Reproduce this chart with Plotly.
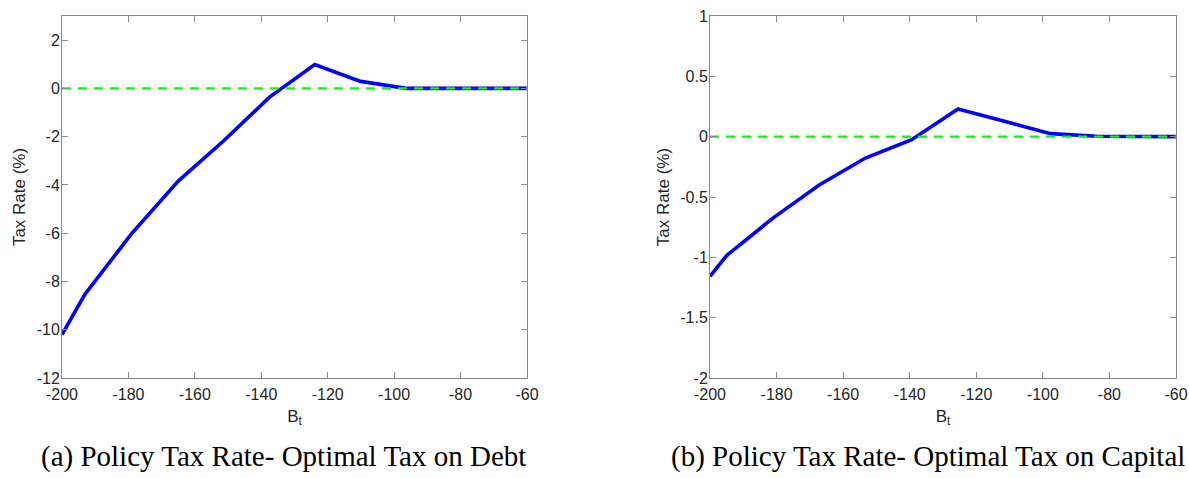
import plotly.graph_objects as go

# ---- data ----
debt_B = [-200, -193.2, -179.1, -165.0, -151.3, -137.6, -123.9, -110.1, -96.4, -82.6, -68.9, -60]
debt_tax = [-10.2, -8.55, -6.03, -3.84, -2.17, -0.37, 0.99, 0.29, 0.0, 0.0, 0.0, 0.0]

cap_B = [-200, -195.0, -181.1, -167.2, -153.3, -139.4, -125.5, -111.6, -97.7, -83.8, -69.9, -60]
cap_tax = [-1.157, -0.985, -0.675, -0.40, -0.177, -0.025, 0.23, 0.127, 0.025, 0.004, 0.0, 0.0]

zero_B = [-200, -60]
zero_val = [0, 0]

x_ticks = [-200, -180, -160, -140, -120, -100, -80, -60]
x_labels = ["-200", "-180", "-160", "-140", "-120", "-100", "-80", "-60"]
debt_yticks = [-12, -10, -8, -6, -4, -2, 0, 2]
debt_ylabels = ["-12", "-10", "-8", "-6", "-4", "-2", "0", "2"]
cap_yticks = [-2, -1.5, -1, -0.5, 0, 0.5, 1]
cap_ylabels = ["-2", "-1.5", "-1", "-0.5", "0", "0.5", "1"]

captions = ["(a) Policy Tax Rate- Optimal Tax on Debt",
            "(b) Policy Tax Rate- Optimal Tax on Capital"]

W, H = 1189, 478
BLUE = "#0000ff"
GREEN = "#00ff00"

fig = go.Figure()

# left panel
fig.add_trace(go.Scatter(x=debt_B, y=debt_tax, mode="lines",
                         line=dict(color=BLUE, width=3.6), xaxis="x", yaxis="y",
                         showlegend=False, hoverinfo="skip"))
fig.add_trace(go.Scatter(x=zero_B, y=zero_val, mode="lines",
                         line=dict(color=GREEN, width=2.2, dash="9px,7px"), xaxis="x", yaxis="y",
                         showlegend=False, hoverinfo="skip"))
# right panel
fig.add_trace(go.Scatter(x=cap_B, y=cap_tax, mode="lines",
                         line=dict(color=BLUE, width=3.6), xaxis="x2", yaxis="y2",
                         showlegend=False, hoverinfo="skip"))
fig.add_trace(go.Scatter(x=zero_B, y=zero_val, mode="lines",
                         line=dict(color=GREEN, width=2.2, dash="9px,7px"), xaxis="x2", yaxis="y2",
                         showlegend=False, hoverinfo="skip"))

tick_font = dict(family="Liberation Sans, Arial, sans-serif", size=16, color="#262626")
title_font = dict(family="Liberation Sans, Arial, sans-serif", size=17, color="#262626")

ydom = [100 / H, 462 / H]


def xaxis(dom, anchor):
    return dict(domain=dom, anchor=anchor, range=[-200, -60], automargin=False,
                tickmode="array", tickvals=x_ticks, ticktext=x_labels,
                ticks="inside", ticklen=6, tickcolor="#8a8a8a",
                showline=True, linecolor="#8a8a8a", linewidth=1, mirror="ticks",
                showgrid=False, zeroline=False, tickfont=tick_font,
                ticklabelstandoff=2,
                title=dict(text="B<sub>t</sub>", font=title_font, standoff=7))


def yaxis(rng, vals, labels, anchor):
    return dict(domain=ydom, anchor=anchor, range=rng, automargin=False,
                tickmode="array", tickvals=vals, ticktext=labels,
                ticks="inside", ticklen=6, tickcolor="#8a8a8a",
                showline=True, linecolor="#8a8a8a", linewidth=1, mirror="ticks",
                showgrid=False, zeroline=False, tickfont=tick_font,
                ticklabelstandoff=-2,
                title=dict(text="Tax Rate (%)", font=title_font, standoff=6))


fig.update_layout(
    width=W, height=H,
    margin=dict(l=0, r=0, t=0, b=0),
    paper_bgcolor="white", plot_bgcolor="white",
    xaxis=xaxis([62 / W, 527 / W], "y"),
    yaxis=yaxis([-12, 3], debt_yticks, debt_ylabels, "x"),
    xaxis2=xaxis([710 / W, 1176 / W], "y2"),
    yaxis2=yaxis([-2, 1], cap_yticks, cap_ylabels, "x2"),
)

cap_font = dict(family="Liberation Serif, Times New Roman, serif", size=29, color="black")
for cx, text in zip([283 / W, 928 / W], captions):
    fig.add_annotation(x=cx, y=(H - 456) / H, xref="paper", yref="paper",
                       text=text, showarrow=False, font=cap_font,
                       xanchor="center", yanchor="middle")

fig.write_html("out.html")
